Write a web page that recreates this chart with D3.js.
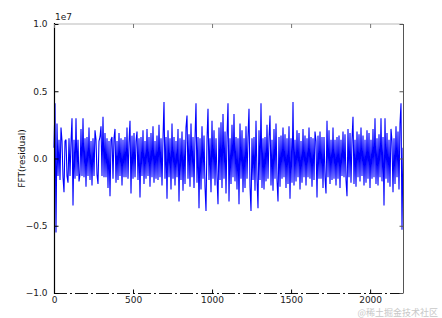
<!DOCTYPE html>
<html><head><meta charset="utf-8">
<script src="https://cdn.jsdelivr.net/npm/d3@7"></script>
<style>body{margin:0;background:#fff;}svg{display:block;font-family:"DejaVu Sans",sans-serif;}</style>
</head><body>
<svg id="c" width="442" height="318"></svg>
<script>
// FFT(residual) values, in units of 1e6, one per sample column
const fftValues = [
0.8,4.1,-5.5,2.6,-1.3,1.4,-1.6,2.3,1.3,-1.4,
-2.5,1.3,1.4,-1.3,-1.8,1.5,-1.3,1.2,3.0,-3.5,
1.4,-1.5,3.0,-1.3,1.4,-1.7,-1.2,2.2,-1.3,3.0,
-1.4,1.5,-2.1,1.6,-1.3,2.3,-1.6,1.3,-2.0,1.5,
-1.3,2.1,1.4,-1.2,-1.9,1.3,1.6,2.4,-1.3,3.1,
-1.4,1.9,-1.4,1.5,-2.2,1.3,-2.8,1.4,1.6,-1.5,
1.5,2.2,-1.8,1.3,-1.6,1.9,-1.3,1.5,-2.0,1.4,
-1.4,1.6,-1.4,2.3,-1.5,1.2,2.8,-2.6,1.7,-1.5,
1.9,-1.4,1.3,2.0,-1.6,1.5,-2.9,1.6,-1.3,2.1,
-1.9,1.3,-1.5,2.2,-1.3,1.6,-2.1,1.9,-1.4,2.4,
-1.8,1.3,-1.5,1.7,-1.6,2.5,-1.4,1.5,-2.0,1.5,
4.2,-1.5,1.6,-3.0,2.1,-1.4,1.5,-2.3,2.6,-1.5,
1.6,-2.0,1.3,-1.4,2.2,-3.2,1.5,-1.6,2.0,-2.4,
1.4,-1.9,2.3,3.2,-1.5,1.8,-2.1,2.6,-1.4,1.6,
-2.2,1.5,4.1,-1.8,1.6,-3.7,1.5,-2.3,2.4,-1.5,
1.7,-2.1,-3.9,1.4,3.7,-1.6,1.5,-2.5,2.8,-1.5,
2.1,-2.0,1.5,-1.4,-3.4,2.3,-1.6,2.7,-2.2,3.3,
-1.5,2.0,-2.6,1.6,4.1,-3.2,1.5,-1.9,2.5,-1.4,
3.3,-1.7,1.6,-2.3,1.5,-3.4,2.6,-1.5,2.1,-2.5,
1.5,-2.2,2.4,-1.5,1.6,3.7,-2.1,-3.9,1.5,-1.6,
1.6,-2.4,2.8,-1.5,-3.7,2.1,-1.6,4.1,-2.2,1.5,
-2.3,1.6,-1.7,2.5,-1.5,1.5,3.2,-2.0,1.4,-2.4,
2.2,-1.5,2.6,-1.6,-3.2,1.6,-2.1,1.7,-1.5,2.3,
-1.4,1.8,-2.2,1.5,-1.9,2.4,-3.0,1.5,-1.8,4.2,
-2.0,1.4,-1.7,2.1,-1.4,1.9,-2.3,1.3,-1.8,2.2,
-1.4,1.7,-2.0,1.5,-1.4,2.3,-1.5,1.6,-2.1,1.5,
-1.6,2.0,1.3,-2.9,1.7,-1.5,2.0,-1.5,1.6,-2.2,
1.6,-1.4,-2.6,2.8,-1.4,2.1,-1.9,1.4,-1.6,2.3,
-1.5,1.4,-2.0,1.6,-1.5,1.7,-2.2,1.4,-1.3,2.0,
-1.4,1.8,-1.6,-2.8,2.2,-1.4,1.9,-1.8,1.4,3.1,
-1.9,1.4,-2.1,2.0,-1.4,1.8,-1.7,2.3,-1.3,1.7,
-2.0,1.4,-1.8,2.1,-1.5,1.9,-2.2,1.4,-1.5,2.2,
-1.4,3.0,-1.9,1.5,-2.0,1.8,-1.4,3.0,-1.7,1.6,
-3.5,3.0,-1.5,1.9,-1.8,1.4,-2.1,2.2,1.3,-2.5,
1.5,-1.9,2.4,-1.4,2.0,-2.3,2.6,4.1,-5.3,0.8
];
const xDomain = [0, 2208];
const yDomain = [-1.0e7, 1.0e7];
const xTicks = [0, 500, 1000, 1500, 2000];
const yTicks = [-1.0e7, -0.5e7, 0, 0.5e7, 1.0e7];
const yTickLabels = ["\u22121.0", "\u22120.5", "0.0", "0.5", "1.0"];
const yLabel = "FFT(residual)";
const offsetText = "1e7";
const watermark = "@稀土掘金技术社区";

const svg = d3.select("#c");
const L = 54, R = 403, T = 24, B = 293;
const x = d3.scaleLinear().domain(xDomain).range([L, R]);
const y = d3.scaleLinear().domain(yDomain).range([B, T]);
const step = (xDomain[1] - xDomain[0]) / (fftValues.length - 1);
const data = fftValues.map((v, i) => [i * step, v * 1e6]);

const g = svg.append("g");
g.append("path").datum(data)
  .attr("d", d3.line().x(d => x(d[0])).y(d => y(d[1])))
  .attr("fill", "none").attr("stroke", "#0000ff").attr("stroke-width", 1.1)
  .attr("stroke-linejoin", "bevel");

// spines
svg.append("line").attr("x1", L).attr("x2", R).attr("y1", T).attr("y2", T)
  .attr("stroke", "#dcdcdc").attr("stroke-width", 2);
svg.append("line").attr("x1", R + 0.5).attr("x2", R + 0.5).attr("y1", T).attr("y2", B)
  .attr("stroke", "#555").attr("stroke-width", 1);
svg.append("line").attr("x1", L).attr("x2", R + 1).attr("y1", B + 0.5).attr("y2", B + 0.5)
  .attr("stroke", "#111").attr("stroke-width", 1).attr("stroke-dasharray", "13,3,2,3");
svg.append("line").attr("x1", L + 0.5).attr("x2", L + 0.5).attr("y1", T - 1).attr("y2", B + 1)
  .attr("stroke", "#000").attr("stroke-width", 1.2);

// axes (ticks inward)
const yAxisL = d3.axisLeft(y).tickValues(yTicks).tickSize(-4).tickPadding(7)
  .tickFormat((d, i) => yTickLabels[i]);
const gy = svg.append("g").attr("transform", `translate(${L + 0.5},0)`).call(yAxisL);
gy.select(".domain").remove();
gy.selectAll("text").attr("font-size", 9).attr("font-family", "DejaVu Sans").attr("fill", "#222");

const yAxisR = d3.axisRight(y).tickValues(yTicks).tickSize(-4).tickFormat("");
const gyr = svg.append("g").attr("transform", `translate(${R + 0.5},0)`).call(yAxisR);
gyr.select(".domain").remove();
gyr.selectAll("line").attr("stroke", "#555");

const xAxisB = d3.axisBottom(x).tickValues(xTicks).tickSize(-4).tickPadding(3)
  .tickFormat(d3.format("d"));
const gx = svg.append("g").attr("transform", `translate(0,${B + 0.5})`).call(xAxisB);
gx.select(".domain").remove();
gx.selectAll("text").attr("font-size", 9).attr("font-family", "DejaVu Sans").attr("fill", "#222");

const xAxisT = d3.axisTop(x).tickValues(xTicks).tickSize(-4).tickFormat("");
const gxt = svg.append("g").attr("transform", `translate(0,${T})`).call(xAxisT);
gxt.select(".domain").remove();
gxt.selectAll("line").attr("stroke", "#777");

// offset text and y label
svg.append("text").attr("x", L + 1).attr("y", T - 4).attr("font-size", 9)
  .attr("fill", "#222").text(offsetText);
svg.append("text").attr("transform", `translate(25,${(T + B) / 2}) rotate(-90)`)
  .attr("text-anchor", "middle").attr("font-size", 9).attr("fill", "#111").text(yLabel);

svg.append("text").attr("x", 438).attr("y", 316).attr("text-anchor", "end")
  .attr("font-size", 9).attr("font-family", "Noto Sans CJK SC").attr("fill", "#c8c8c8")
  .text(watermark);
</script>
</body></html>
